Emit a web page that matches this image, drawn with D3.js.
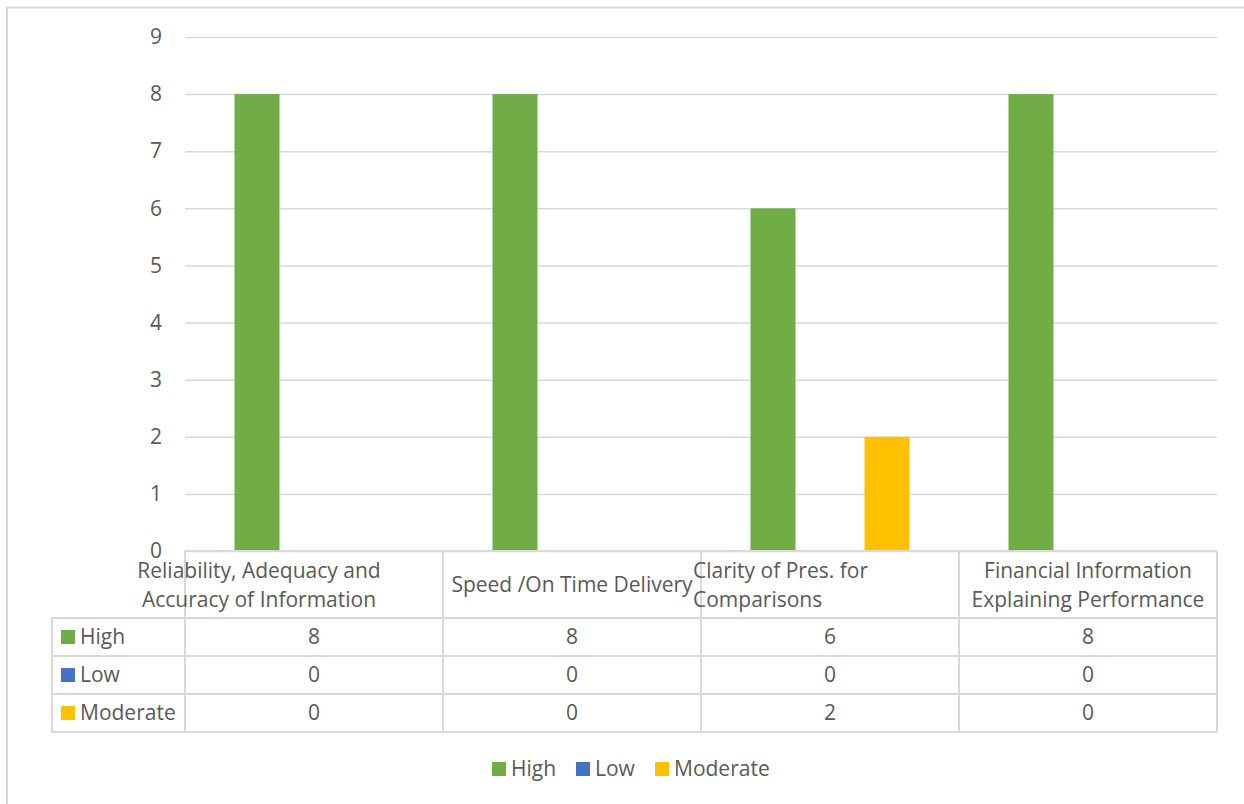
<!DOCTYPE html>
<html>
<head>
<meta charset="utf-8">
<script src="https://cdn.jsdelivr.net/npm/d3@7"></script>
<style>
  html, body { margin: 0; padding: 0; background: #fff; }
  svg { display: block; }
  text { font-family: "Open Sans", Lato, sans-serif; fill: #595959; }
</style>
</head>
<body>
<svg id="chart" width="1244" height="804"></svg>
<script>
// Survey ratings per information quality criterion
const categories = [
  ["Reliability, Adequacy and", "Accuracy of Information"],
  ["Speed /On Time Delivery"],
  ["Clarity of Pres. for", "Comparisons"],
  ["Financial Information", "Explaining Performance"]
];
const seriesNames = ["High", "Low", "Moderate"];
const highValues = [8, 8, 6, 8];
const lowValues = [0, 0, 0, 0];
const moderateValues = [0, 0, 2, 0];
const yTicks = [0, 1, 2, 3, 4, 5, 6, 7, 8, 9];

const seriesValues = [highValues, lowValues, moderateValues];
const colors = ["#70ad47", "#4472c4", "#ffc000"];
const catKeys = categories.map(c => c.join(" "));
const fontSize = "21px";

const svg = d3.select("#chart");
const grid = "#d9d9d9";

// chart frame
svg.append("rect")
  .attr("x", 7).attr("y", 7.5).attr("width", 1260).attr("height", 820)
  .attr("fill", "none").attr("stroke", grid).attr("stroke-width", 2);

const plot = { left: 185, right: 1217, top: 37, bottom: 551 };

const y = d3.scaleLinear().domain([0, 9]).range([plot.bottom, plot.top]);
const x0 = d3.scaleBand().domain(catKeys).range([plot.left, plot.right]).padding(0);
const groupW = 159;
const x1 = d3.scaleBand().domain(seriesNames)
  .range([(x0.bandwidth() - groupW) / 2, (x0.bandwidth() + groupW) / 2])
  .paddingInner(12 / 57).paddingOuter(0);

// gridlines + y labels
const yAxis = d3.axisLeft(y).tickValues(yTicks).tickSize(-(plot.right - plot.left)).tickPadding(23);
const gy = svg.append("g").attr("transform", `translate(${plot.left},0)`).call(yAxis);
gy.select(".domain").remove();
gy.selectAll(".tick line").attr("stroke", grid).attr("stroke-width", 1.5);
gy.selectAll(".tick text").style("font-size", fontSize).attr("fill", "#595959")
  .style("font-family", "'Open Sans', sans-serif");

// bars
const groups = svg.append("g").selectAll("g")
  .data(catKeys).join("g")
  .attr("transform", d => `translate(${x0(d)},0)`);
groups.selectAll("rect")
  .data((d, i) => seriesNames.map((s, j) => ({ s, v: seriesValues[j][i], c: colors[j] })))
  .join("rect")
  .attr("x", d => x1(d.s))
  .attr("width", x1.bandwidth())
  .attr("y", d => y(d.v))
  .attr("height", d => y(0) - y(d.v))
  .attr("fill", d => d.c);

// data table
const tbl = { left: 52, header: 618, rowH: 38 };
const lines = svg.append("g").attr("stroke", grid).attr("stroke-width", 2).attr("fill", "none");
const tableBottom = tbl.header + tbl.rowH * seriesNames.length;
// horizontal lines
lines.append("line").attr("x1", plot.left).attr("x2", plot.right).attr("y1", plot.bottom).attr("y2", plot.bottom);
d3.range(seriesNames.length + 1).forEach(i => {
  const yy = tbl.header + i * tbl.rowH;
  lines.append("line").attr("x1", tbl.left).attr("x2", plot.right).attr("y1", yy).attr("y2", yy);
});
// vertical lines
lines.append("line").attr("x1", tbl.left).attr("x2", tbl.left).attr("y1", tbl.header).attr("y2", tableBottom);
catKeys.forEach(k => {
  lines.append("line").attr("x1", x0(k)).attr("x2", x0(k)).attr("y1", plot.bottom).attr("y2", tableBottom);
});
lines.append("line").attr("x1", plot.right).attr("x2", plot.right).attr("y1", plot.bottom).attr("y2", tableBottom);

// category headers
const headerAnchor = [
  { dx: -55, anchor: "middle" },
  { dx: 0, anchor: "middle" },
  { dx: -137, anchor: "start" },
  { dx: 0, anchor: "middle" }
];
categories.forEach((lbl, i) => {
  const cx = x0(catKeys[i]) + x0.bandwidth() / 2 + headerAnchor[i].dx;
  const t = svg.append("text")
    .attr("text-anchor", headerAnchor[i].anchor)
    .style("font-size", fontSize);
  const startY = lbl.length === 1 ? 585 : 571;
  lbl.forEach((line, j) => {
    t.append("tspan").attr("x", cx).attr("y", startY + j * 29).attr("dy", "0.35em").text(line);
  });
});

// rows
seriesNames.forEach((s, j) => {
  const cy = tbl.header + j * tbl.rowH + tbl.rowH / 2;
  svg.append("rect").attr("x", 61).attr("y", cy - 7).attr("width", 14).attr("height", 14).attr("fill", colors[j]);
  svg.append("text").attr("x", 80).attr("y", cy).attr("dy", "0.35em")
    .style("font-size", fontSize).text(s);
  catKeys.forEach((k, i) => {
    svg.append("text").attr("x", x0(k) + x0.bandwidth() / 2).attr("y", cy).attr("dy", "0.35em")
      .attr("text-anchor", "middle").style("font-size", fontSize).text(seriesValues[j][i]);
  });
});

// legend
const legendX = [492, 576, 655];
const lg = svg.append("g");
seriesNames.forEach((s, j) => {
  lg.append("rect").attr("x", legendX[j]).attr("y", 762).attr("width", 14).attr("height", 14).attr("fill", colors[j]);
  lg.append("text").attr("x", legendX[j] + 19).attr("y", 769).attr("dy", "0.35em")
    .style("font-size", fontSize).text(s);
});
</script>
</body>
</html>
